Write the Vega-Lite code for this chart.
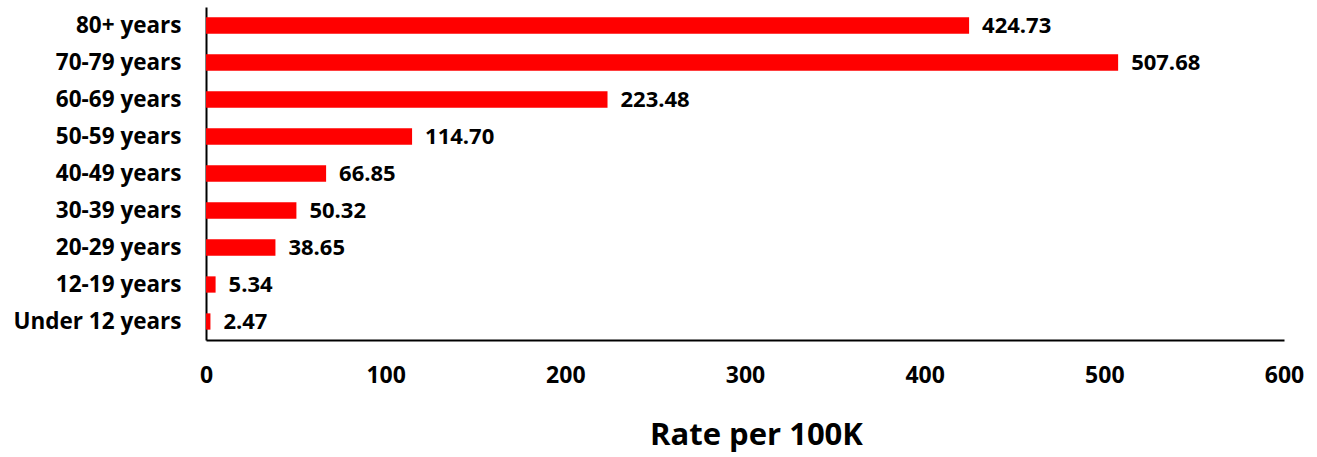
{
  "$schema": "https://vega.github.io/schema/vega-lite/v6.json",
  "width": 1078,
  "height": 333,
  "autosize": {"type": "none"},
  "padding": {"left": 206, "top": 7, "right": 33, "bottom": 117},
  "background": "white",
  "data": {"values": [
    {"group": "80+ years", "rate": 424.73},
    {"group": "70-79 years", "rate": 507.68},
    {"group": "60-69 years", "rate": 223.48},
    {"group": "50-59 years", "rate": 114.70},
    {"group": "40-49 years", "rate": 66.85},
    {"group": "30-39 years", "rate": 50.32},
    {"group": "20-29 years", "rate": 38.65},
    {"group": "12-19 years", "rate": 5.34},
    {"group": "Under 12 years", "rate": 2.47}
  ]},
  "config": {
    "view": {"stroke": null},
    "font": "Open Sans"
  },
  "encoding": {
    "y": {
      "field": "group", "type": "nominal", "sort": null,
      "scale": {"paddingInner": 0.56, "paddingOuter": 0.28},
      "axis": {
        "title": null, "ticks": false, "domainColor": "black", "domainWidth": 2,
        "labelFont": "Open Sans", "labelFontWeight": "bold", "labelFontSize": 22.5,
        "labelColor": "black", "labelPadding": 25
      }
    },
    "x": {
      "field": "rate", "type": "quantitative",
      "scale": {"domain": [0, 600], "nice": false},
      "axis": {
        "title": "Rate per 100K", "values": [0, 100, 200, 300, 400, 500, 600],
        "grid": false, "ticks": false, "domainColor": "black", "domainWidth": 2,
        "labelFlush": false, "labelBound": false, "labelOverlap": false,
        "labelFont": "Open Sans", "labelFontWeight": "bold", "labelFontSize": 23,
        "labelColor": "black", "labelPadding": 24,
        "titleFont": "Open Sans", "titleFontWeight": "bold", "titleFontSize": 31,
        "titleColor": "black", "titlePadding": 33, "titleX": 550, "titleAlign": "center"
      }
    }
  },
  "layer": [
    {"mark": {"type": "bar", "color": "#FF0000"}},
    {
      "mark": {"type": "text", "align": "left", "baseline": "middle", "dx": 13,
               "font": "Open Sans", "fontWeight": "bold", "fontSize": 22, "color": "black"},
      "encoding": {"text": {"field": "rate", "type": "quantitative", "format": ".2f"}}
    }
  ]
}
